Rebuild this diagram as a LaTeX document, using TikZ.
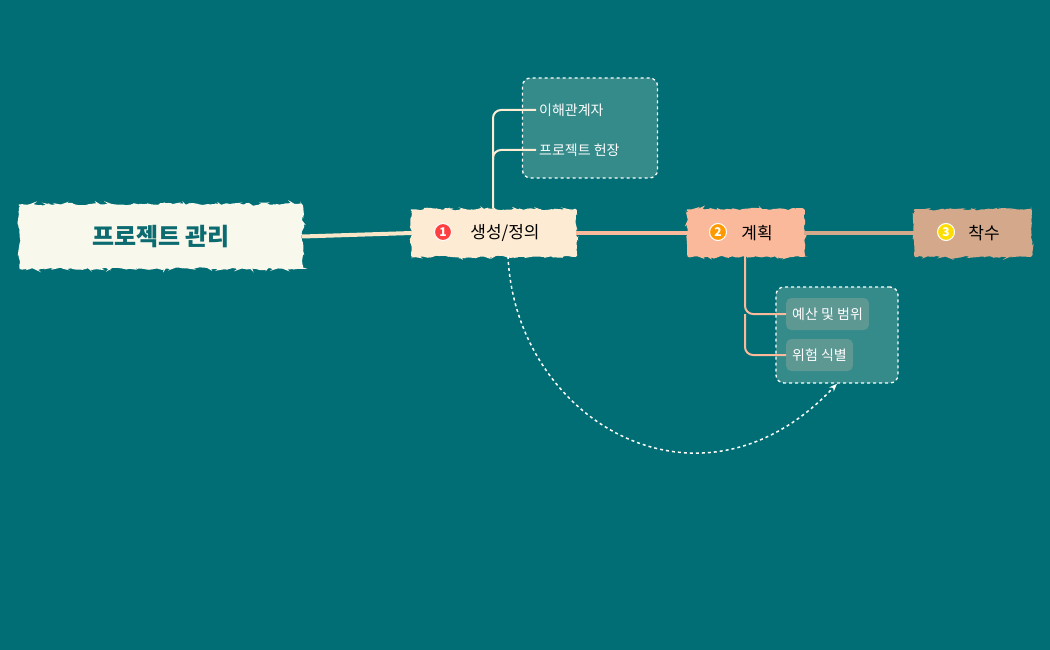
\documentclass[tikz,border=0pt]{standalone}
\usepackage{fontspec}
\setmainfont{Noto Sans CJK KR}
\usetikzlibrary{decorations.pathmorphing,arrows.meta}
\definecolor{bg}{HTML}{006E74}
\definecolor{rootc}{HTML}{F8F8EC}
\definecolor{ca}{HTML}{FDEBD3}
\definecolor{cb}{HTML}{FBB99B}
\definecolor{cc}{HTML}{D4A88A}
\definecolor{boxc}{HTML}{358A8A}
\definecolor{itemc}{HTML}{5E9893}
\definecolor{roott}{HTML}{0B6B70}
\tikzset{
  sketch/.style={draw=#1,fill=#1,line width=1.5pt,decorate,decoration={random steps,segment length=3pt,amplitude=1.5pt},rounded corners=2pt},
  topic/.style={minimum height=50pt,text=black,font=\fontsize{17}{17}\selectfont},
  num/.style={circle,fill=#1,draw=white,line width=1pt,text=white,inner sep=0pt,minimum size=17pt,font=\bfseries\fontsize{12}{12}\selectfont},
  group/.style={draw=white,dashed,line width=1.3pt,fill=boxc,rounded corners=8pt},
  sub/.style={text=white,font=\fontsize{14}{14}\selectfont,anchor=west,inner sep=3pt},
  item/.style={fill=itemc,rounded corners=5pt,text=white,font=\fontsize{14}{14}\selectfont,anchor=west,minimum height=32pt,inner xsep=6pt},
}
\begin{document}
\begin{tikzpicture}[x=1pt,y=-1pt]
\fill[bg] (0,0) rectangle (1050,650);
\useasboundingbox (0,0) rectangle (1050,650);
% groups
\node[group,minimum width=135pt,minimum height=100pt] (g1) at (590,128) {};
\node[group,minimum width=122pt,minimum height=96pt] (g2) at (837,335) {};
% shapes
\path[sketch=rootc] (20,205) rectangle (302,268);
\path[sketch=ca] (412,210) rectangle (576,256);
\path[sketch=cb] (688,210) rectangle (804,256);
\path[sketch=cc] (915,210) rectangle (1031,256);
\node[minimum width=282pt,minimum height=63pt,text=roott,font=\bfseries\fontsize{24}{24}\selectfont] (root) at (161,236.5) {프로젝트 관리};
\node[topic,minimum width=164pt] (n1) at (494,233) {\hspace{22pt}생성/정의};
\node[topic,minimum width=116pt] (n2) at (746,233) {\hspace{22pt}계획};
\node[topic,minimum width=116pt] (n3) at (973,233) {\hspace{22pt}착수};
\node[num=red!75!white] (c1) at (443,232) {1};
\node[num=orange!80!yellow] (c2) at (718,232) {2};
\node[num=yellow!80!orange] (c3) at (946,232) {3};
% connectors
\draw[rootc!85!orange,line width=4pt] (root.east) -- (n1.west);
\draw[cb,line width=4pt] (n1.east) -- (n2.west);
\draw[cc,line width=4pt] (n2.east) -- (n3.west);
% sub items
\node[sub] (s1) at (536,110) {이해관계자};
\node[sub] (s2) at (536,150) {프로젝트 헌장};
\node[item] (i1) at (786,314) {예산 및 범위};
\node[item] (i2) at (786,355) {위험 식별};
\draw[ca,line width=2pt,rounded corners=8pt] (493,208) -- (493,110) -- (s1.west);
\draw[ca,line width=2pt,rounded corners=8pt] (493,160) -- (493,150) -- (s2.west);
\draw[cb,line width=2pt,rounded corners=8pt] (745,256) -- (745,314) -- (i1.west);
\draw[cb,line width=2pt,rounded corners=8pt] (745,314) -- (745,355) -- (i2.west);
% dashed relation
\coordinate (rs) at (508,256);
\draw[white,dashed,line width=1.5pt,-{Stealth[length=8pt]}] (rs) .. controls (515,420) and (700,530) .. (g2.south);
\end{tikzpicture}
\end{document}
